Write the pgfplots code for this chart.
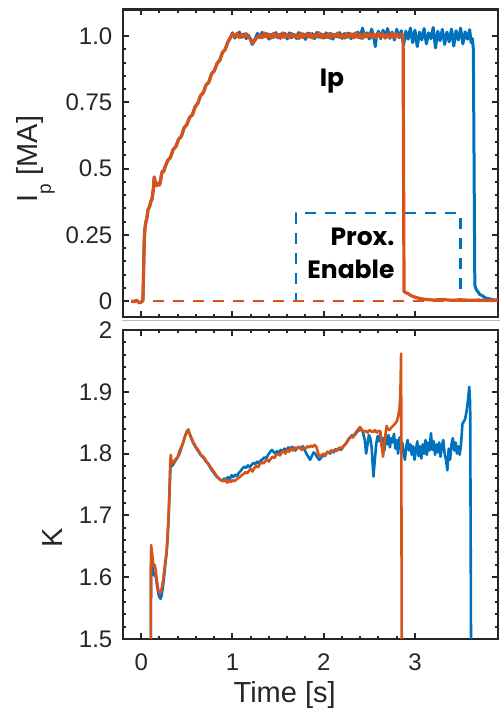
\documentclass[border=0pt]{standalone}
\usepackage{fontspec}
\setmainfont{Liberation Sans}
\newfontfamily\annfont{Poppins}
\usepackage{pgfplots}
\pgfplotsset{compat=1.18}
\definecolor{mblue}{rgb}{0,0.447,0.741}
\definecolor{morange}{rgb}{0.85,0.325,0.098}
\definecolor{frame}{HTML}{262626}

\pgfplotsset{panel/.style={
  scale only axis, width=187.5pt,
  xmin=-0.2, xmax=3.91,
  xtick={0,1,2,3}, minor x tick num=4,
  tick align=inside,
  major tick length=2.8pt, minor tick length=1.7pt,
  every tick/.style={frame, line width=1pt},
  axis line style={frame, line width=1.4pt},
  tick label style={font=\fontsize{12}{14}\selectfont, text=frame},
  yticklabel style={xshift=-1.8pt},
  xticklabel style={yshift=-4pt},
  label style={font=\fontsize{14.5}{17}\selectfont, text=frame},
  every axis plot/.append style={line width=1.3pt, line join=round},
}}

\begin{document}
\begin{tikzpicture}
\useasboundingbox (0,0) rectangle (250pt,354.5pt);
\draw[gray!55, line width=0.7pt] (61pt,194.25pt) -- (250pt,194.25pt);

% ---- top: plasma current
\begin{axis}[panel,
  at={(61.5pt,196pt)}, anchor=south west, height=153.75pt,
  ymin=-0.06, ymax=1.1,
  ytick={0,0.25,0.5,0.75,1}, yticklabels={0,0.25,0.5,0.75,1.0},
  minor y tick num=4,
  xticklabels={},
  ylabel={I\raisebox{-6.7pt}{\fontsize{9.5}{9.5}\selectfont p} [MA]},
  ylabel style={at={(axis description cs:-0.228,0.514)}, anchor=base},
]
\addplot[mblue, dashed, dash pattern=on 5.5pt off 4.5pt, line width=1.1pt] coordinates {
(0.133,0)(1.70,0)(1.70,0.332)(3.50,0.332)(3.50,0)(3.62,0)};
\addplot[mblue, line width=1.5pt] coordinates {
(-0.11,0.000)(-0.08,-0.002)(-0.05,0.003)(-0.03,-0.004)(-0.01,-0.006)(0.005,-0.002)(0.018,0.002)
(0.025,0.10)(0.032,0.22)(0.038,0.265)(0.045,0.285)(0.052,0.30)(0.06,0.31)(0.075,0.345)(0.09,0.355)
(0.105,0.375)(0.118,0.385)(0.128,0.41)(0.135,0.43)(0.142,0.468)(0.15,0.455)(0.16,0.44)(0.17,0.435)
(0.185,0.445)(0.20,0.438)(0.212,0.455)(0.222,0.478)(0.232,0.49)(0.245,0.488)(0.26,0.505)
(0.29,0.530)(0.32,0.542)(0.35,0.572)(0.38,0.583)(0.41,0.611)(0.44,0.622)(0.47,0.654)(0.50,0.666)
(0.53,0.693)(0.56,0.702)(0.59,0.733)(0.62,0.746)(0.65,0.775)(0.68,0.786)(0.71,0.815)(0.74,0.825)
(0.77,0.857)(0.80,0.868)(0.83,0.896)(0.86,0.908)(0.89,0.938)(0.92,0.949)(0.95,0.978)(0.97,0.989)
(1.000,1.012)(1.025,0.992)(1.050,1.004)(1.075,1.015)(1.100,0.995)(1.125,1.008)(1.150,0.990)(1.175,1.003)
(1.200,0.985)(1.215,0.968)(1.230,0.975)(1.250,0.990)(1.275,1.010)(1.300,0.994)(1.325,1.014)(1.350,0.997)
(1.375,1.009)(1.400,0.988)(1.425,1.006)(1.450,0.995)(1.475,1.013)(1.500,0.993)(1.525,1.007)(1.550,0.996)
(1.575,1.010)(1.600,0.989)(1.625,1.012)(1.650,0.994)(1.675,1.006)(1.700,0.991)(1.725,1.013)(1.750,0.995)
(1.775,1.008)(1.800,0.987)(1.825,1.011)(1.850,0.996)(1.875,1.009)(1.900,0.990)(1.925,1.014)(1.950,0.995)
(1.975,1.007)(2.000,0.992)(2.025,1.012)(2.050,0.994)(2.075,1.010)(2.100,0.988)(2.125,1.006)(2.150,0.997)
(2.175,1.013)(2.200,0.991)(2.225,1.009)(2.250,0.995)(2.275,1.011)(2.300,0.990)(2.325,1.008)(2.350,0.996)
(2.375,1.015)(2.400,0.992)(2.425,1.030)(2.450,0.996)(2.475,1.012)(2.500,0.989)(2.525,1.026)(2.550,0.993)
(2.565,0.960)(2.580,1.004)(2.600,1.018)(2.625,0.990)(2.650,1.022)(2.675,0.995)(2.700,1.028)(2.725,0.991)
(2.750,1.015)(2.775,0.985)(2.800,1.025)(2.825,0.993)(2.850,1.020)(2.875,0.965)(2.900,1.018)(2.925,0.988)
(2.950,1.030)(2.975,0.975)(3.000,1.022)(3.025,0.960)(3.050,1.015)(3.075,0.985)(3.100,1.028)(3.125,0.970)
(3.150,1.012)(3.175,0.990)(3.200,1.032)(3.225,0.955)(3.250,1.018)(3.275,0.982)(3.300,1.025)(3.325,0.968)
(3.350,1.015)(3.375,0.978)(3.400,1.026)(3.425,0.962)(3.450,1.020)(3.475,0.985)(3.500,1.030)(3.525,0.970)
(3.550,1.016)(3.575,0.988)(3.600,1.024)(3.615,0.975)(3.630,0.990)(3.640,0.950)(3.648,0.50)(3.656,0.060)
(3.67,0.045)(3.69,0.035)(3.71,0.025)(3.74,0.020)(3.77,0.012)(3.80,0.010)(3.84,0.006)(3.88,0.004)(3.91,0.005)
};
\addplot[morange, dashed, dash pattern=on 5.5pt off 4.5pt, line width=1.1pt] coordinates {
(0.133,0)(3.91,0)};
\addplot[morange, line width=1.6pt] coordinates {
(-0.11,0.000)(-0.08,-0.002)(-0.05,0.003)(-0.03,-0.004)(-0.01,-0.006)(0.005,-0.002)(0.018,0.002)
(0.025,0.10)(0.032,0.22)(0.038,0.265)(0.045,0.285)(0.052,0.30)(0.06,0.31)(0.075,0.345)(0.09,0.355)
(0.105,0.375)(0.118,0.385)(0.128,0.41)(0.135,0.43)(0.142,0.468)(0.15,0.455)(0.16,0.44)(0.17,0.435)
(0.185,0.445)(0.20,0.438)(0.212,0.455)(0.222,0.478)(0.232,0.49)(0.245,0.488)(0.26,0.505)
(0.29,0.530)(0.32,0.542)(0.35,0.572)(0.38,0.583)(0.41,0.611)(0.44,0.622)(0.47,0.654)(0.50,0.666)
(0.53,0.693)(0.56,0.702)(0.59,0.733)(0.62,0.746)(0.65,0.775)(0.68,0.786)(0.71,0.815)(0.74,0.825)
(0.77,0.857)(0.80,0.868)(0.83,0.896)(0.86,0.908)(0.89,0.938)(0.92,0.949)(0.95,0.978)(0.97,0.989)
(1.000,1.008)(1.025,0.996)(1.050,1.010)(1.075,0.994)(1.100,1.006)(1.125,0.997)(1.150,1.009)(1.175,0.995)
(1.200,0.990)(1.215,0.972)(1.230,0.978)(1.250,0.986)(1.275,0.995)(1.300,1.004)(1.325,0.993)(1.350,1.011)
(1.375,0.996)(1.400,1.007)(1.425,0.992)(1.450,1.010)(1.475,0.997)(1.500,1.005)(1.525,0.991)(1.550,1.012)
(1.575,0.995)(1.600,1.006)(1.625,0.993)(1.650,1.009)(1.675,0.998)(1.700,1.004)(1.725,0.990)(1.750,1.011)
(1.775,0.994)(1.800,1.007)(1.825,0.996)(1.850,1.010)(1.875,0.992)(1.900,1.005)(1.925,0.997)(1.950,1.012)
(1.975,0.993)(2.000,1.006)(2.025,0.995)(2.050,1.009)(2.075,0.991)(2.100,1.007)(2.125,0.998)(2.150,1.011)
(2.175,0.994)(2.200,1.005)(2.225,0.992)(2.250,1.010)(2.275,0.996)(2.300,1.008)(2.325,0.993)(2.350,1.012)
(2.375,0.995)(2.400,1.006)(2.425,0.991)(2.450,1.009)(2.475,0.997)(2.500,1.011)(2.525,0.994)(2.550,1.007)
(2.575,0.993)(2.600,1.010)(2.625,0.996)(2.650,1.008)(2.675,0.992)(2.700,1.006)(2.725,0.995)(2.750,1.011)
(2.775,0.994)(2.800,1.008)(2.825,0.996)(2.850,1.007)(2.870,0.998)(2.875,0.50)(2.880,0.036)
(2.90,0.032)(2.93,0.027)(2.96,0.020)(3.00,0.015)(3.04,0.011)(3.08,0.008)(3.12,0.006)(3.2,0.004)
(3.3,0.006)(3.4,0.003)(3.5,0.005)(3.6,0.003)(3.7,0.004)(3.8,0.002)(3.91,0.003)
};
\node[font=\annfont\bfseries\fontsize{12.5}{14}\selectfont, anchor=base] at (axis cs:2.09,0.809) {Ip};
\node[font=\annfont\bfseries\fontsize{12.5}{14}\selectfont, anchor=base east, inner sep=0pt] at (axis cs:2.78,0.211) {Prox.};
\node[font=\annfont\bfseries\fontsize{12.5}{14}\selectfont, anchor=base east, inner sep=0pt] at (axis cs:2.78,0.087) {Enable};
\end{axis}

% ---- bottom: elongation
\begin{axis}[panel,
  at={(61.5pt,35pt)}, anchor=south west, height=154.5pt,
  ymin=1.5, ymax=2,
  ytick={1.5,1.6,1.7,1.8,1.9,2}, yticklabels={1.5,1.6,1.7,1.8,1.9,2},
  minor y tick num=4,
  xticklabels={0,1,2,3},
  xlabel={Time [s]},
  xlabel style={at={(axis description cs:0.431,-0.207)}, anchor=base},
  ylabel={K},
  ylabel style={at={(axis description cs:-0.16,0.327)}, anchor=base},
]
\addplot[mblue] coordinates {
(0.104,1.40)(0.106,1.55)(0.108,1.645)(0.118,1.630)(0.128,1.610)(0.140,1.603)(0.150,1.606)(0.160,1.600)
(0.172,1.588)(0.185,1.575)(0.198,1.568)(0.212,1.565)(0.222,1.570)(0.235,1.582)(0.250,1.600)(0.265,1.622)
(0.278,1.640)(0.290,1.665)(0.300,1.695)(0.310,1.738)(0.320,1.778)(0.330,1.780)(0.345,1.781)(0.360,1.785)
(0.380,1.790)(0.400,1.794)(0.420,1.800)(0.440,1.810)(0.460,1.818)(0.480,1.828)(0.500,1.836)(0.515,1.839)
(0.530,1.832)(0.550,1.824)(0.570,1.817)(0.590,1.812)(0.610,1.807)(0.630,1.803)(0.650,1.798)(0.670,1.795)
(0.690,1.792)(0.710,1.787)(0.730,1.784)(0.750,1.779)(0.770,1.774)(0.790,1.770)(0.810,1.766)(0.830,1.762)
(0.850,1.760)(0.870,1.757)(0.890,1.756)(0.910,1.760)(0.930,1.758)(0.950,1.762)(0.970,1.759)(0.990,1.765)
(1.010,1.762)(1.030,1.766)(1.050,1.764)(1.070,1.769)(1.090,1.772)(1.110,1.776)(1.130,1.779)(1.150,1.777)
(1.170,1.781)(1.190,1.778)(1.210,1.782)(1.230,1.785)(1.250,1.783)(1.270,1.787)(1.290,1.784)(1.310,1.789)
(1.330,1.791)(1.350,1.794)(1.370,1.792)(1.390,1.798)(1.410,1.802)(1.430,1.806)(1.450,1.803)(1.470,1.800)
(1.490,1.804)(1.510,1.801)(1.530,1.806)(1.550,1.804)(1.570,1.808)(1.590,1.805)(1.610,1.810)(1.630,1.807)
(1.650,1.811)(1.670,1.808)(1.690,1.805)(1.710,1.809)(1.730,1.811)(1.750,1.808)(1.770,1.812)(1.790,1.806)
(1.810,1.800)(1.830,1.795)(1.850,1.790)(1.870,1.796)(1.890,1.802)(1.910,1.799)(1.930,1.794)(1.950,1.790)
(1.970,1.793)(1.990,1.798)(2.010,1.796)(2.030,1.801)(2.050,1.803)(2.070,1.800)(2.090,1.805)(2.110,1.802)
(2.130,1.807)(2.150,1.805)(2.170,1.809)(2.190,1.806)(2.210,1.811)(2.230,1.814)(2.250,1.818)(2.270,1.823)
(2.290,1.826)(2.310,1.830)(2.330,1.828)(2.350,1.832)(2.370,1.836)(2.390,1.838)(2.410,1.840)(2.430,1.834)
(2.450,1.822)(2.465,1.800)(2.480,1.815)(2.495,1.830)(2.510,1.825)(2.525,1.810)(2.545,1.763)(2.560,1.790)
(2.575,1.815)(2.590,1.828)(2.605,1.820)(2.620,1.835)(2.635,1.812)(2.650,1.825)(2.665,1.805)(2.680,1.828)
(2.695,1.815)(2.710,1.830)(2.725,1.810)(2.740,1.825)(2.755,1.818)(2.770,1.832)(2.785,1.808)(2.800,1.822)
(2.815,1.800)(2.830,1.826)(2.845,1.812)(2.860,1.818)(2.875,1.800)(2.890,1.790)(2.905,1.812)(2.920,1.822)
(2.935,1.805)(2.950,1.815)(2.965,1.798)(2.980,1.812)(2.995,1.790)(3.010,1.805)(3.025,1.820)(3.040,1.796)
(3.055,1.812)(3.070,1.792)(3.085,1.815)(3.100,1.800)(3.115,1.822)(3.130,1.798)(3.145,1.818)(3.160,1.805)
(3.175,1.833)(3.190,1.806)(3.205,1.820)(3.220,1.798)(3.235,1.815)(3.250,1.802)(3.265,1.818)(3.280,1.795)
(3.295,1.812)(3.310,1.822)(3.325,1.800)(3.340,1.790)(3.355,1.773)(3.370,1.808)(3.385,1.790)(3.400,1.815)
(3.415,1.825)(3.430,1.805)(3.445,1.818)(3.460,1.800)(3.475,1.812)(3.490,1.798)(3.505,1.815)(3.520,1.848)
(3.535,1.852)(3.550,1.856)(3.565,1.868)(3.580,1.885)(3.595,1.908)(3.605,1.880)(3.612,1.60)(3.616,1.40)
};
\addplot[morange] coordinates {
(0.104,1.40)(0.106,1.55)(0.108,1.652)(0.118,1.64)(0.128,1.625)(0.138,1.618)(0.148,1.620)(0.158,1.612)
(0.168,1.598)(0.180,1.585)(0.192,1.576)(0.203,1.574)(0.213,1.576)(0.225,1.582)(0.240,1.595)(0.255,1.615)
(0.268,1.630)(0.280,1.645)(0.290,1.672)(0.300,1.700)(0.310,1.745)(0.318,1.785)(0.324,1.798)(0.332,1.788)
(0.342,1.784)(0.355,1.786)(0.370,1.790)(0.385,1.792)(0.400,1.795)(0.415,1.802)(0.430,1.808)(0.445,1.812)
(0.460,1.818)(0.475,1.826)(0.490,1.832)(0.505,1.837)(0.515,1.838)(0.525,1.834)(0.540,1.829)(0.555,1.824)
(0.570,1.818)(0.585,1.815)(0.600,1.810)(0.615,1.808)(0.630,1.804)(0.645,1.800)(0.660,1.797)(0.680,1.795)
(0.700,1.791)(0.720,1.786)(0.740,1.783)(0.760,1.778)(0.780,1.774)(0.800,1.770)(0.820,1.765)(0.840,1.762)
(0.860,1.758)(0.880,1.757)(0.900,1.755)(0.920,1.758)(0.940,1.753)(0.960,1.756)(0.980,1.754)(1.000,1.757)
(1.020,1.755)(1.040,1.758)(1.060,1.760)(1.080,1.762)(1.100,1.765)(1.120,1.767)(1.140,1.770)(1.160,1.768)
(1.180,1.772)(1.200,1.775)(1.220,1.771)(1.240,1.777)(1.260,1.780)(1.280,1.778)(1.300,1.783)(1.320,1.786)
(1.340,1.784)(1.360,1.788)(1.380,1.790)(1.400,1.787)(1.420,1.792)(1.440,1.795)(1.460,1.793)(1.480,1.798)
(1.500,1.800)(1.520,1.797)(1.540,1.802)(1.560,1.804)(1.580,1.800)(1.600,1.806)(1.620,1.803)(1.640,1.808)
(1.660,1.805)(1.680,1.810)(1.700,1.807)(1.720,1.811)(1.740,1.809)(1.760,1.806)(1.780,1.810)(1.800,1.808)
(1.820,1.812)(1.840,1.810)(1.860,1.813)(1.880,1.811)(1.900,1.814)(1.920,1.811)(1.940,1.800)(1.960,1.795)
(1.980,1.798)(2.000,1.800)(2.020,1.797)(2.040,1.803)(2.060,1.801)(2.080,1.805)(2.100,1.803)(2.120,1.806)
(2.140,1.804)(2.160,1.808)(2.180,1.810)(2.200,1.808)(2.220,1.813)(2.240,1.815)(2.260,1.820)(2.280,1.825)
(2.300,1.828)(2.320,1.826)(2.340,1.832)(2.360,1.836)(2.380,1.840)(2.400,1.843)(2.420,1.838)(2.440,1.835)
(2.460,1.837)(2.480,1.834)(2.500,1.838)(2.520,1.836)(2.540,1.835)(2.560,1.838)(2.580,1.834)(2.600,1.837)
(2.620,1.836)(2.635,1.815)(2.650,1.795)(2.665,1.815)(2.680,1.835)(2.690,1.845)(2.700,1.840)(2.720,1.838)
(2.740,1.842)(2.760,1.845)(2.780,1.848)(2.800,1.852)(2.815,1.860)(2.830,1.872)(2.840,1.895)(2.848,1.962)
(2.852,1.70)(2.856,1.40)
};
\end{axis}
\end{tikzpicture}
\end{document}
